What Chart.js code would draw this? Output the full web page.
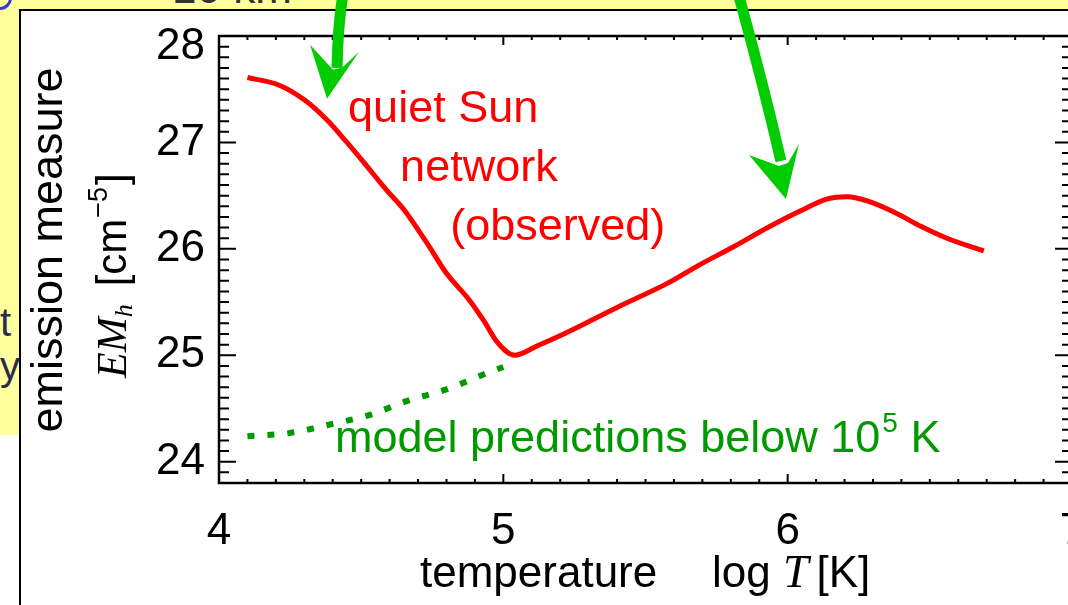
<!DOCTYPE html>
<html>
<head>
<meta charset="utf-8">
<script src="https://cdn.jsdelivr.net/npm/chart.js@4.4.1/dist/chart.umd.min.js"></script>
<style>
html, body { margin: 0; padding: 0; width: 1068px; height: 605px; overflow: hidden; background: #fff; }
#yellowTop { position: absolute; left: 0; top: 0; width: 1068px; height: 10px; background: #ffff9c; }
#yellowLeft { position: absolute; left: 0; top: 0; width: 20px; height: 435px; background: #ffff9c; }
#corner { position: absolute; left: -14px; top: -16px; width: 20px; height: 20px; border: 3px solid #3a3ad0; border-radius: 12px; }
#topText { position: absolute; left: 172px; top: 0; height: 7px; overflow: hidden; }
#topText span { display: block; font: 44px "Liberation Sans", Arial, sans-serif; color: #333; margin-top: -37px; }
#leftText { position: absolute; left: 0; top: 300px; width: 19px; overflow: hidden; font: 40px "Liberation Sans", Arial, sans-serif; color: #2a2a50; line-height: 44px; text-align: right; white-space: nowrap; }
#panel { position: absolute; left: 19px; top: 9px; width: 1100px; height: 650px; border-left: 2px solid #000; border-top: 2px solid #000; background: #fff; }
#wrap { position: absolute; left: 0; top: 0; }
</style>
</head>
<body>
<div id="yellowTop"></div>
<div id="yellowLeft"></div>
<div id="corner"></div>
<div id="topText"><span>10 km</span></div>
<div id="leftText"><div style="margin-right:-12px">t :</div><div style="margin-right:-10px">ys</div></div>
<div id="panel"></div>
<div id="wrap"><canvas id="c" width="1090" height="620"></canvas></div>
<script>
/* ---------- DATA ---------- */
// observed quiet Sun network
const obsLogT = [4.10, 4.21, 4.30, 4.38, 4.45, 4.51, 4.59, 4.65, 4.73, 4.80, 4.88, 4.93, 4.98, 5.04,
                 5.12, 5.22, 5.40, 5.58, 5.69, 5.81, 5.93, 6.04, 6.14, 6.21, 6.28, 6.37, 6.47, 6.56, 6.69];
const obsEM   = [27.61, 27.54, 27.40, 27.21, 27.00, 26.81, 26.55, 26.37, 26.06, 25.77, 25.52, 25.33, 25.12, 25.00,
                 25.09, 25.21, 25.45, 25.68, 25.85, 26.02, 26.20, 26.35, 26.47, 26.49, 26.45, 26.35, 26.21, 26.10, 25.98];
// model predictions below 10^5 K
const modelLogT = [4.10, 4.25, 4.39, 4.53, 4.66, 4.80, 4.93, 5.00];
const modelEM   = [24.24, 24.27, 24.35, 24.44, 24.57, 24.68, 24.82, 24.89];

const xTicks = [4, 5, 6, 7];
const yTicks = [24, 25, 26, 27, 28];

/* ---------- STYLE ---------- */
const SANS = '"Liberation Sans", Arial, Helvetica, sans-serif';
const SERIF = '"Liberation Serif", "Times New Roman", serif';
const RED = '#ff0000';
const DKGREEN = '#009a00';
const ARROW = '#00cc00';

/* ---------- FRAME + INWARD TICKS ---------- */
const framePlugin = {
    id: 'frame',
    afterDraw(chart) {
        const { ctx, chartArea: a, scales: { x, y } } = chart;
        ctx.save();
        ctx.strokeStyle = '#000';
        ctx.lineWidth = 2;
        ctx.beginPath();
        for (let i = 0; i <= 30; i++) {
            const px = x.getPixelForValue(4 + i / 10);
            const len = i % 10 === 0 ? 9 : 4;
            ctx.moveTo(px, a.bottom); ctx.lineTo(px, a.bottom - len);
            ctx.moveTo(px, a.top); ctx.lineTo(px, a.top + len);
        }
        for (let i = 0; i <= 42; i++) {
            const v = 23.8 + i / 10;
            const py = y.getPixelForValue(v);
            const len = Math.abs(v - Math.round(v)) < 1e-6 ? 17 : 10;
            ctx.moveTo(a.left, py); ctx.lineTo(a.left + len, py);
            ctx.moveTo(a.right, py); ctx.lineTo(a.right - len, py);
        }
        ctx.stroke();
        ctx.lineWidth = 2.5;
        ctx.strokeRect(a.left, a.top, a.right - a.left, a.bottom - a.top);

        // top label sits a bit lower, as in the original
        ctx.fillStyle = '#000';
        ctx.font = '44px ' + SANS;
        ctx.textAlign = 'right';
        ctx.textBaseline = 'middle';
        ctx.fillText('28', a.left - 14, y.getPixelForValue(28) + 11);
        ctx.restore();
    }
};

/* ---------- TITLES, NOTES, ARROWS ---------- */
function drawArrow(ctx, tx, ty, shaft, head) {
    ctx.save();
    ctx.strokeStyle = ARROW;
    ctx.fillStyle = ARROW;
    ctx.lineWidth = 11;
    ctx.beginPath();
    ctx.moveTo(tx + shaft[0][0], ty + shaft[0][1]);
    ctx.quadraticCurveTo(tx + shaft[1][0], ty + shaft[1][1], tx + shaft[2][0], ty + shaft[2][1]);
    ctx.stroke();
    ctx.beginPath();
    ctx.moveTo(tx, ty);
    head.forEach(p => ctx.lineTo(tx + p[0], ty + p[1]));
    ctx.closePath();
    ctx.fill();
    ctx.restore();
}

const notesPlugin = {
    id: 'notes',
    afterDraw(chart) {
        const { ctx, scales: { x, y } } = chart;
        ctx.save();
        ctx.textBaseline = 'alphabetic';
        ctx.textAlign = 'left';

        // red labels
        ctx.fillStyle = RED;
        ctx.font = '45px ' + SANS;
        ctx.fillText('quiet Sun', x.getPixelForValue(4.454), y.getPixelForValue(27.19));
        ctx.fillText('network', x.getPixelForValue(4.637), y.getPixelForValue(26.64));
        ctx.fillText('(observed)', x.getPixelForValue(4.813), y.getPixelForValue(26.08));

        // green label
        ctx.fillStyle = DKGREEN;
        let gx = x.getPixelForValue(4.408);
        const gy = y.getPixelForValue(24.09);
        const t1 = 'model predictions below 10';
        ctx.fillText(t1, gx, gy);
        gx += ctx.measureText(t1).width + 2;
        ctx.font = '28px ' + SANS;
        ctx.fillText('5', gx, gy - 20);
        gx += ctx.measureText('5').width;
        ctx.font = '45px ' + SANS;
        ctx.fillText(' K', gx, gy);

        // x title
        ctx.fillStyle = '#000';
        ctx.font = '44px ' + SANS;
        let tx = 420;
        const ty = 587;
        ctx.fillText('temperature', tx, ty);
        tx = 712;
        ctx.fillText('log', tx, ty);
        tx += ctx.measureText('log ').width;
        ctx.font = 'italic 46px ' + SERIF;
        ctx.fillText('T', tx, ty);
        tx += ctx.measureText('T').width + 8;
        ctx.font = '44px ' + SANS;
        ctx.fillText('[K]', tx, ty);

        // y title, line 1
        ctx.save();
        ctx.translate(62, 250);
        ctx.rotate(-Math.PI / 2);
        ctx.textAlign = 'center';
        ctx.font = '45px ' + SANS;
        ctx.fillText('emission measure', 0, 0);
        ctx.restore();

        // y title, line 2
        ctx.save();
        ctx.translate(126, 378);
        ctx.rotate(-Math.PI / 2);
        let lx = 0;
        ctx.font = 'italic 42px ' + SERIF;
        ctx.fillText('EM', lx, 0);
        lx += ctx.measureText('EM').width;
        ctx.font = 'italic 26px ' + SERIF;
        ctx.fillText('h', lx, 6);
        lx += ctx.measureText('h').width + 18;
        ctx.font = '42px ' + SANS;
        ctx.fillText('[cm', lx, 0);
        lx += ctx.measureText('[cm').width + 1;
        ctx.font = '27px ' + SANS;
        ctx.fillText('\u22125', lx, -19);
        lx += ctx.measureText('\u22125').width + 2;
        ctx.font = '42px ' + SANS;
        ctx.fillText(']', lx, 0);
        ctx.restore();

        // arrows pointing at the curve
        drawArrow(ctx, x.getPixelForValue(4.38), y.getPixelForValue(27.41),
            [[17, -110], [11, -80], [10, -31]],
            [[-17, -54], [6, -29], [15, -31], [32, -47]]);
        drawArrow(ctx, x.getPixelForValue(5.994), y.getPixelForValue(26.468),
            [[-49, -210], [-24, -120], [-5, -38]],
            [[-37, -44], [-7, -33], [2, -36], [13, -55]]);
        ctx.restore();
    }
};

/* ---------- CHART ---------- */
new Chart(document.getElementById('c'), {
    type: 'line',
    data: {
        datasets: [{
            data: obsLogT.map((t, i) => ({ x: t, y: obsEM[i] })),
            borderColor: RED,
            borderWidth: 5,
            pointRadius: 0,
            cubicInterpolationMode: 'monotone',
            fill: false
        }, {
            data: modelLogT.map((t, i) => ({ x: t, y: modelEM[i] })),
            borderColor: DKGREEN,
            borderWidth: 6,
            borderDash: [7, 13],
            borderCapStyle: 'butt',
            pointRadius: 0,
            cubicInterpolationMode: 'monotone',
            fill: false
        }]
    },
    options: {
        responsive: false,
        animation: false,
        devicePixelRatio: 1,
        layout: { padding: { top: 36, right: 18, left: 0, bottom: 0 } },
        plugins: { legend: { display: false }, tooltip: { enabled: false } },
        scales: {
            x: {
                type: 'linear',
                min: 4,
                max: 7,
                afterBuildTicks: s => { s.ticks = xTicks.map(v => ({ value: v })); },
                afterFit: s => { s.height = 620 - 483; s.paddingLeft = 0; s.paddingRight = 0; },
                grid: { display: false, drawTicks: false },
                border: { display: false },
                ticks: { color: '#000', font: { family: SANS, size: 44 }, padding: 22, maxRotation: 0, autoSkip: false }
            },
            y: {
                type: 'linear',
                min: 23.8,
                max: 28,
                afterBuildTicks: s => { s.ticks = yTicks.map(v => ({ value: v })); },
                afterFit: s => { s.width = 219; s.paddingTop = 0; s.paddingBottom = 0; },
                grid: { display: false, drawTicks: false },
                border: { display: false },
                ticks: { color: '#000', font: { family: SANS, size: 44 }, padding: 14, autoSkip: false,
                         callback: v => (v === 28 ? '' : v) }
            }
        }
    },
    plugins: [framePlugin, notesPlugin]
});
</script>
</body>
</html>
